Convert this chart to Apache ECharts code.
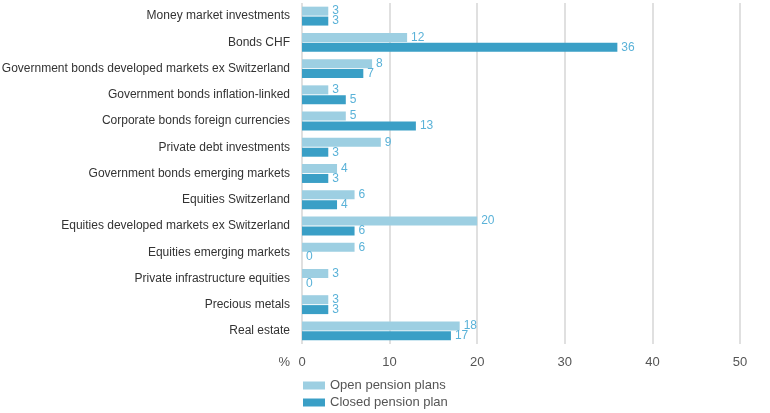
<!DOCTYPE html>
<html><head><meta charset="utf-8">
<script src="https://cdn.jsdelivr.net/npm/echarts@6/dist/echarts.min.js"></script>
<style>html,body{margin:0;padding:0;background:#fff}#c{width:770px;height:413px}</style>
</head><body><div id="c"></div>
<script>
const categories = ["Money market investments","Bonds CHF","Government bonds developed markets ex Switzerland","Government bonds inflation-linked","Corporate bonds foreign currencies","Private debt investments","Government bonds emerging markets","Equities Switzerland","Equities developed markets ex Switzerland","Equities emerging markets","Private infrastructure equities","Precious metals","Real estate"];
const openPlans = [3,12,8,3,5,9,4,6,20,6,3,3,18];
const closedPlans = [3,36,7,5,13,3,3,4,6,0,0,3,17];
const seriesNames = ["Open pension plans","Closed pension plan"];
const xTicks = {min:0, max:50, interval:10};

const font = "'Liberation Sans', sans-serif";
const chart = echarts.init(document.getElementById('c'), null, {renderer:'canvas'});
const lbl = {show:true, position:'right', distance:4, color:'#5ab2d8', fontSize:12, fontFamily:font};
chart.setOption({
  animation:false,
  textStyle:{fontFamily:font},
  grid:{left:302, right:30, top:3, bottom:69, containLabel:false, outerBoundsMode:'none'},
  legend:{orient:'vertical', left:303, top:379, itemWidth:22, itemHeight:8, itemGap:4, padding:0,
    textStyle:{color:'#555', fontSize:13, fontFamily:font},
    data:seriesNames.map(n=>({name:n, icon:'rect'}))},
  xAxis:{type:'value', min:xTicks.min, max:xTicks.max, interval:xTicks.interval,
    name:'%', nameLocation:'start', nameGap:12, nameTextStyle:{color:'#555', fontSize:13, fontFamily:font, verticalAlign:'top', padding:[12,0,0,0]},
    axisLine:{show:false}, axisTick:{show:false},
    axisLabel:{color:'#555', fontSize:13, margin:12, fontFamily:font},
    splitLine:{lineStyle:{color:'#e0e0e0', width:2}}},
  yAxis:{type:'category', data:categories, inverse:true,
    axisLine:{show:false}, axisTick:{show:false},
    axisLabel:{color:'#333', fontSize:12, margin:12, fontFamily:font}},
  series:[
    {name:seriesNames[0], type:'bar', data:openPlans, barWidth:9, barGap:'10%', itemStyle:{color:'#9dcfe2'}, label:lbl},
    {name:seriesNames[1], type:'bar', data:closedPlans, barWidth:9, itemStyle:{color:'#3a9fc6'}, label:lbl}
  ]
});
</script></body></html>
